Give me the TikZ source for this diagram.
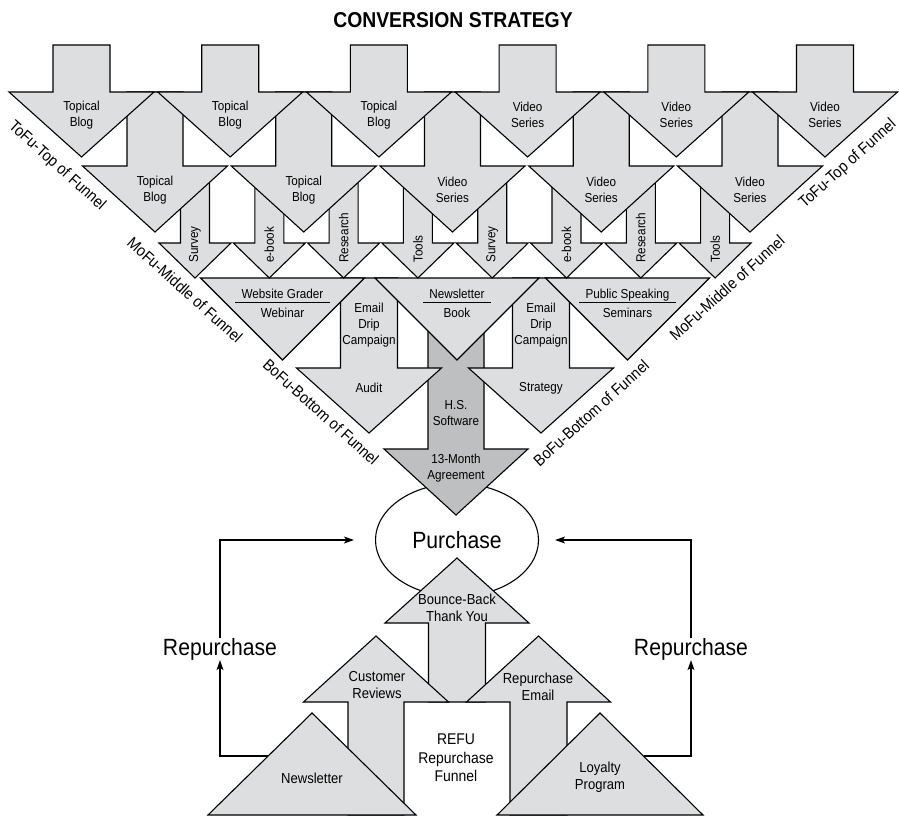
\documentclass[tikz,border=0pt]{standalone}
\usepackage{fontspec}
\setmainfont{Liberation Sans}[FakeStretch=0.9]
\usetikzlibrary{arrows.meta,calc,shapes.geometric}

\definecolor{shapefill}{RGB}{221,222,223}
\definecolor{deepfill}{RGB}{190,191,192}

\tikzset{
  blk/.style={draw=black, line width=1.1pt, fill=shapefill, line join=miter},
  deep/.style={blk, fill=deepfill},
  lbl/.style={font=\fontsize{13}{16}\selectfont, align=center, inner sep=0pt},
  lblb/.style={font=\fontsize{14.5}{17}\selectfont, align=center, inner sep=0pt},
  vlbl/.style={font=\fontsize{13}{16}\selectfont, rotate=90, anchor=west, inner sep=0pt},
  stage/.style={font=\fontsize{16}{19}\selectfont, inner sep=0pt},
  big/.style={font=\fontsize{23.5}{28}\selectfont, inner sep=0pt},
  loopline/.style={line width=1.2pt, -{Stealth[length=10pt,width=7pt,inset=2.5pt]}},
  rulel/.style={line width=1pt},
}

% block arrow: style, centre x, shaft end y, shaft half width, head base y, head half width, tip y
\newcommand\ArrowShape[7]{%
  \draw[#1] ({#2-#4},#3) -- ({#2+#4},#3) -- ({#2+#4},#5) -- ({#2+#6},#5)
    -- (#2,#7) -- ({#2-#6},#5) -- ({#2-#4},#5) -- cycle;}
% triangle: style, centre x, base y, half width, apex y
\newcommand\Wedge[5]{%
  \draw[#1] ({#2-#4},#3) -- ({#2+#4},#3) -- (#2,#5) -- cycle;}

\begin{document}
\begin{tikzpicture}[x=1pt,y=-1pt]
\useasboundingbox (0,0) rectangle (899,816);

% ---------- title ----------
\node[font=\bfseries\fontsize{21.5}{24}\selectfont, inner sep=0pt] (title) at (453,20.5) {CONVERSION STRATEGY};

% ---------- purchase and repurchase funnel ----------
\node[draw, ellipse, line width=1.1pt, minimum width=163pt, minimum height=113pt,
      inner sep=0pt, font=\fontsize{23.5}{28}\selectfont] (purchase) at (457,540) {Purchase};

\ArrowShape{blk}{457}{702}{28.5}{623}{72}{558}
\ArrowShape{blk}{376}{815}{28}{702}{72.5}{636}
\ArrowShape{blk}{538.5}{815}{28.5}{702}{72}{636}

\coordinate (nlEdge) at (268,756);
\coordinate (lpEdge) at (643.5,756);
\node[big] (repL) at (220,649) {Repurchase};
\node[big] (repR) at (691,649) {Repurchase};
\draw[loopline] (nlEdge) -| (repL.south);
\draw[loopline, shorten >=21pt] (repL.north) |- (purchase.west);
\draw[loopline] (lpEdge) -| (repR.south);
\draw[loopline, shorten >=16pt] (repR.north) |- (purchase.east);

\Wedge{blk}{312}{815}{104}{713}
\Wedge{blk}{600}{815}{103}{713}

% ---------- conversion funnel, drawn from the bottom tier up ----------
\ArrowShape{deep}{456}{300}{28}{449}{72}{515}

\ArrowShape{blk}{369}{278}{28.5}{368}{72.5}{433}
\ArrowShape{blk}{541}{278}{28.5}{368}{72.5}{433}

\Wedge{blk}{282.5}{278}{82}{360}
\Wedge{blk}{457}{278}{82}{360}
\Wedge{blk}{627.5}{278}{82}{360}

\foreach \i in {0,...,7}{
  \pgfmathsetmacro\cx{195+74.3*\i}
  \ArrowShape{blk}{\cx}{170}{14.5}{243}{36}{278}
}
\foreach \i in {0,...,4}{
  \pgfmathsetmacro\cx{155+148.75*\i}
  \ArrowShape{blk}{\cx}{92}{28}{166}{72.5}{232}
}
\foreach \i in {0,...,5}{
  \pgfmathsetmacro\cx{81.5+148.7*\i}
  \ArrowShape{blk}{\cx}{45}{28.5}{92}{72.5}{157}
}

% ---------- labels: top of funnel ----------
\foreach \i in {0,1,2}{
  \pgfmathsetmacro\cx{81.5+148.7*\i}
  \node[lbl] (ta\i) at (\cx,115) {Topical\\Blog};
}
\foreach \i in {3,4,5}{
  \pgfmathsetmacro\cx{81.5+148.7*\i}
  \node[lbl] (ta\i) at (\cx,115) {Video\\Series};
}
\foreach \i in {0,1}{
  \pgfmathsetmacro\cx{155+148.75*\i}
  \node[lbl] (tb\i) at (\cx,190) {Topical\\Blog};
}
\foreach \i in {2,3,4}{
  \pgfmathsetmacro\cx{155+148.75*\i}
  \node[lbl] (tb\i) at (\cx,190) {Video\\Series};
}

% ---------- labels: middle of funnel ----------
\foreach \t [count=\i from 0] in {Survey,e-book,Research,Tools,Survey,e-book,Research,Tools}{
  \pgfmathsetmacro\cx{195+74.3*\i}
  \node[vlbl] (tc\i) at (\cx,263) {\t};
}

% ---------- labels: bottom of funnel ----------
\node[lbl, anchor=base] (wgTop) at (282.5,298.5) {Website Grader};
\node[lbl, anchor=base] (wgBot) at (282.5,317.5) {Webinar};
\node[lbl, anchor=base] (nlTop) at (457,298.5) {Newsletter};
\node[lbl, anchor=base] (nlBot) at (457,317.5) {Book};
\node[lbl, anchor=base] (psTop) at (627.5,298.5) {Public Speaking};
\node[lbl, anchor=base] (psBot) at (627.5,317.5) {Seminars};
\draw[rulel] ($(wgTop.base west)+(-6,3.5)$) -- ($(wgTop.base east)+(6,3.5)$);
\draw[rulel] ($(nlTop.base west)+(-6,3.5)$) -- ($(nlTop.base east)+(6,3.5)$);
\draw[rulel] ($(psTop.base west)+(-6,3.5)$) -- ($(psTop.base east)+(6,3.5)$);

\node[lbl] (dripL) at (369,325) {Email\\Drip\\Campaign};
\node[lbl] (dripR) at (541,325) {Email\\Drip\\Campaign};
\node[lbl] (audit) at (369,388) {Audit};
\node[lbl] (strategy) at (541,388) {Strategy};
\node[lbl] (software) at (456,413.5) {H.S.\\Software};
\node[lbl] (agreement) at (456,468) {13-Month\\Agreement};

% ---------- labels: repurchase funnel ----------
\node[lblb] (bounce) at (457,608) {Bounce-Back\\Thank You};
\node[lblb] (reviews) at (377,685) {Customer\\Reviews};
\node[lblb] (remail) at (538,687) {Repurchase\\Email};
\node[lblb] (newsl) at (312,778) {Newsletter};
\node[lblb] (loyal) at (600,777.5) {Loyalty\\Program};
\node[font=\fontsize{15.5}{18.5}\selectfont, align=center, inner sep=0pt] (refu) at (456,758) {REFU\\Repurchase\\Funnel};

% ---------- stage names along the funnel sides ----------
\node[stage, rotate=-42] (tofuL) at (57,166) {ToFu-Top of Funnel};
\node[stage, rotate=-42] (mofuL) at (185,290) {MoFu-Middle of Funnel};
\node[stage, rotate=-42] (bofuL) at (321,412) {BoFu-Bottom of Funnel};
\node[stage, rotate=42] (tofuR) at (848,164) {ToFu-Top of Funnel};
\node[stage, rotate=42] (mofuR) at (727,288) {MoFu-Middle of Funnel};
\node[stage, rotate=42] (bofuR) at (591,413) {BoFu-Bottom of Funnel};

\end{tikzpicture}
\end{document}
